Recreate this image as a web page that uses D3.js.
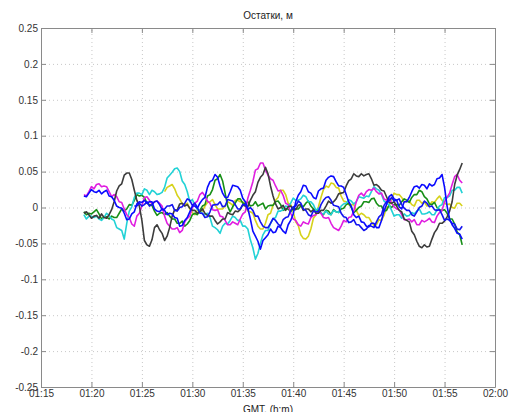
<!DOCTYPE html>
<html>
<head>
<meta charset="utf-8">
<script src="https://cdn.jsdelivr.net/npm/d3@7/dist/d3.min.js"></script>
<style>
  html, body { margin: 0; padding: 0; background: #fff; }
  svg { display: block; font-family: "Liberation Sans", Arial, sans-serif; }
  .grid line { stroke: #c8c8c8; stroke-dasharray: 1 3; }
  .grid path { display: none; }
  .frame path, .frame line { stroke: #8a8a8a; }
  .frame text { fill: #333; font-size: 10px; }
</style>
</head>
<body>
<svg id="chart" width="514" height="412"></svg>
<script>
// Residuals per satellite, millimetres, one sample every 15 s
const sampleStartUTC = [1, 19, 15];   // h, m, s of the first sample
const sampleStepSec = 15;

const xTickLabels = ["01:15","01:20","01:25","01:30","01:35","01:40","01:45","01:50","01:55","02:00"];
const yTickValues = [-250,-200,-150,-100,-50,0,50,100,150,200,250];
const yTickLabels = ["-0.25","-0.2","-0.15","-0.1","-0.05","0","0.05","0.1","0.15","0.2","0.25"];

const black = [-8,-6,-10,-15,-12,-11,-15,-9,-14,-15,-10,-3,8,23,30,33,45,48,48,39,
  24,10,2,-18,-46,-52,-54,-45,-28,-24,-31,-36,-46,-40,-28,-12,-3,-4,5,6,
  2,4,-1,-4,-4,-8,-6,-2,-8,-11,-12,-12,-18,-23,-20,-16,-16,-7,-9,-10,
  -5,-6,-3,4,2,1,10,17,22,35,42,46,56,47,30,16,5,-2,0,3,
  -4,1,2,-3,-3,3,4,-4,-2,-2,-6,-3,-8,-8,-4,-4,2,9,6,8,
  12,19,20,21,30,37,40,47,44,43,47,44,46,47,40,31,32,29,24,23,
  15,7,6,8,2,-4,-6,-16,-18,-20,-33,-38,-47,-54,-56,-52,-55,-54,-44,-35,
  -30,-22,-22,-19,-13,-5,8,32,45,53,62];

const cyan = [-10,-16,-12,-12,-14,-12,-16,-18,-14,-8,-11,-16,-18,-28,-30,-32,-44,-22,-5,1,
  14,20,20,18,26,24,18,24,22,18,19,21,28,41,45,49,54,55,50,37,
  32,22,8,11,4,-3,-4,-9,-10,-8,-14,-26,-28,-31,-36,-26,-22,-23,-18,-12,
  -14,-18,-18,-26,-26,-30,-45,-56,-72,-64,-50,-38,-32,-32,-22,-16,-14,-5,-5,-3,
  2,1,6,13,10,10,12,17,15,8,8,4,-4,-1,-8,-9,-5,-9,-10,-4,
  -6,-7,2,5,6,11,9,5,8,15,14,13,16,15,22,29,26,24,18,9,
  6,4,-4,-12,-10,-10,-15,-9,-12,-11,-7,-9,-5,-2,-9,-9,-8,-6,-10,-10,
  -3,2,4,14,14,16,24,24,28,28,20];

const magenta = [18,16,22,29,26,32,33,29,30,29,22,15,18,15,8,7,-2,-10,-14,-23,
  -26,-12,-8,2,14,15,10,5,8,9,6,2,-12,-22,-26,-30,-30,-28,-35,-32,
  -20,-15,-12,0,6,9,18,21,16,9,6,-3,-4,-3,-12,-13,-18,-24,-24,-20,
  -22,-24,-16,-9,-6,13,24,36,52,54,62,62,52,45,40,38,30,23,24,17,
  6,4,-8,-16,-18,-24,-26,-20,-22,-23,-14,-11,-10,-6,-8,-14,-15,-14,-22,-28,
  -30,-32,-26,-18,-20,-14,-13,-5,8,17,20,16,22,25,24,27,22,19,20,12,
  10,13,6,1,-2,-3,-10,-17,-17,-16,-20,-17,-24,-24,-18,-20,-18,-15,-20,-21,
  -12,-7,-4,8,14,20,32,43,46,38,34];

const green = [-6,-10,-8,-9,-6,-3,-9,-16,-13,-13,-16,-12,-14,-14,-8,-2,-5,-2,4,3,
  10,18,16,17,14,6,4,3,-5,-11,-8,-7,-10,-7,-12,-16,-16,-22,-22,-19,
  -26,-23,-18,-10,-8,-10,-4,2,4,16,18,25,38,40,46,37,20,2,-6,1,
  6,12,12,6,6,8,2,3,8,2,4,6,-2,2,3,3,8,9,4,-4,
  -2,-2,-6,0,-2,-2,2,1,6,9,2,-2,-4,-3,-8,-10,-4,-5,-10,-3,
  -6,-7,-2,-1,4,6,0,-7,-4,0,2,8,8,7,12,13,6,2,2,-5,
  -4,3,0,4,4,3,8,12,10,7,14,18,18,24,22,15,12,5,4,7,
  0,-3,-4,-3,-8,-16,-16,-23,-34,-38,-52];

// begins 8 minutes after the first sample
const yellow = [22,28,30,32,26,17,12,5,4,6,-2,-7,-10,-4,-4,-5,2,7,8,11,
  4,-2,-2,-2,2,8,6,3,10,10,8,8,2,-5,-6,-8,-18,-26,-30,-30,
  -22,-10,-8,3,10,14,24,24,18,6,4,-6,-20,-25,-38,-43,-44,-40,-30,-15,
  -10,1,14,25,30,28,34,33,28,27,16,9,8,4,4,4,-4,-11,-8,-10,
  -14,-14,-20,-25,-24,-17,-18,-11,0,2,12,20,18,18,14,8,8,9,4,2,
  10,10,6,8,2,3,8,7,12,16,10,6,4,5,0,-1,6,6,2];

const blueA = [16,15,20,25,22,21,24,19,22,24,16,15,10,2,0,-1,-8,-17,-16,-9,
  -6,5,8,7,10,6,8,8,-2,-5,-6,-2,-4,-10,-8,-9,-14,-15,-26,-25,
  -18,-14,-6,2,2,-1,6,11,14,28,36,38,46,42,30,20,14,14,22,31,
  30,29,24,13,8,-1,-16,-33,-40,-47,-58,-46,-42,-38,-30,-35,-34,-26,-28,-33,
  -36,-24,-18,-9,8,17,22,31,30,22,20,14,12,23,26,27,38,42,44,43,
  36,30,30,28,18,8,2,-10,-14,-12,-20,-21,-26,-27,-22,-22,-28,-28,-18,-5,
  4,15,18,12,10,1,-2,8,8,14,22,29,30,27,32,31,26,33,30,32,
  40,41,46,28,2,-16,-24,-29,-36,-37,-44];

// begins 5 minutes after the first sample
const blueB = [2,2,6,2,4,8,2,4,8,9,4,-3,-2,2,2,4,-4,-5,0,1,
  6,12,10,3,6,0,-8,-8,-14,-13,-6,3,4,4,8,1,2,11,10,9,
  4,-2,-2,4,4,-3,0,-4,-12,-12,-20,-26,-28,-28,-22,-15,-18,-23,-26,-17,
  -14,-13,-4,1,2,9,6,-2,-4,-10,-12,-5,-6,-6,4,10,14,15,10,3,
  2,1,-8,-13,-14,-21,-20,-17,-24,-24,-28,-32,-30,-25,-26,-28,-20,-13,-10,3,
  8,9,14,9,10,12,4,-1,-4,-4,-10,-12,-6,0,2,9,6,1,2,-3,
  -4,-3,-10,-18,-16,-18,-22,-23,-30,-31,-26];

const seriesList = [
  { values: yellow,  offset: 32, color: "#d6d21c" },
  { values: green,   offset: 0,  color: "#178f17" },
  { values: cyan,    offset: 0,  color: "#22d2d6" },
  { values: magenta, offset: 0,  color: "#e01ee0" },
  { values: black,   offset: 0,  color: "#3c3c3c" },
  { values: blueB,   offset: 20, color: "#1414f0" },
  { values: blueA,   offset: 0,  color: "#0a0aff" }
];

const W = 514, H = 412;
const margin = { top: 28, right: 19, bottom: 25, left: 41 };
const innerW = W - margin.left - margin.right;
const innerH = H - margin.top - margin.bottom;

const t = (h, m, s = 0) => new Date(Date.UTC(2000, 0, 1, h, m, s));
const x = d3.scaleUtc().domain([t(1, 15), t(2, 0)]).range([0, innerW]);
const y = d3.scaleLinear().domain([-250, 250]).range([innerH, 0]);

const xTickValues = xTickLabels.map(s => { const [h, m] = s.split(":").map(Number); return t(h, m); });
const sampleTime = i => new Date(t(...sampleStartUTC).getTime() + i * sampleStepSec * 1000);

const svg = d3.select("#chart");
const g = svg.append("g").attr("transform", `translate(${margin.left},${margin.top})`);

// dotted grid
g.append("g").attr("class", "grid")
  .call(d3.axisLeft(y).tickValues(yTickValues).tickSize(-innerW).tickFormat(""));
g.append("g").attr("class", "grid")
  .attr("transform", `translate(0,${innerH})`)
  .call(d3.axisBottom(x).tickValues(xTickValues).tickSize(-innerH).tickFormat(""));

// residual traces
const line = d3.line()
  .x(d => x(d.t))
  .y(d => y(d.v));

const traces = g.append("g").style("filter", "blur(0.35px)");
seriesList.forEach(s => {
  const pts = s.values.map((v, i) => ({ t: sampleTime(i + s.offset), v }));
  traces.append("path")
    .datum(pts)
    .attr("fill", "none")
    .attr("stroke", s.color)
    .attr("stroke-width", 1.6)
    .attr("stroke-linejoin", "round")
    .attr("d", line);
});

// box with inward ticks
const yFmt = v => yTickLabels[yTickValues.indexOf(v)];
const xFmt = d => xTickLabels[xTickValues.findIndex(v => v.getTime() === d.getTime())];

g.append("g").attr("class", "frame")
  .call(d3.axisLeft(y).tickValues(yTickValues).tickSize(-5).tickSizeOuter(0).tickPadding(3).tickFormat(yFmt));
g.append("g").attr("class", "frame")
  .attr("transform", `translate(${innerW},0)`)
  .call(d3.axisRight(y).tickValues(yTickValues).tickSize(-5).tickSizeOuter(0).tickFormat(""));
g.append("g").attr("class", "frame")
  .attr("transform", `translate(0,${innerH})`)
  .call(d3.axisBottom(x).tickValues(xTickValues).tickSize(-5).tickSizeOuter(0).tickPadding(3).tickFormat(xFmt));
g.append("g").attr("class", "frame")
  .call(d3.axisTop(x).tickValues(xTickValues).tickSize(-5).tickSizeOuter(0).tickFormat(""));

// title and axis label
svg.append("text")
  .attr("x", margin.left + innerW / 2).attr("y", 19)
  .attr("text-anchor", "middle")
  .attr("fill", "#222").style("font-size", "10px")
  .text("Остатки, м");
svg.append("text")
  .attr("x", margin.left + innerW / 2).attr("y", 413)
  .attr("text-anchor", "middle")
  .attr("fill", "#222").style("font-size", "10px")
  .text("GMT, (h:m)");
</script>
</body>
</html>
